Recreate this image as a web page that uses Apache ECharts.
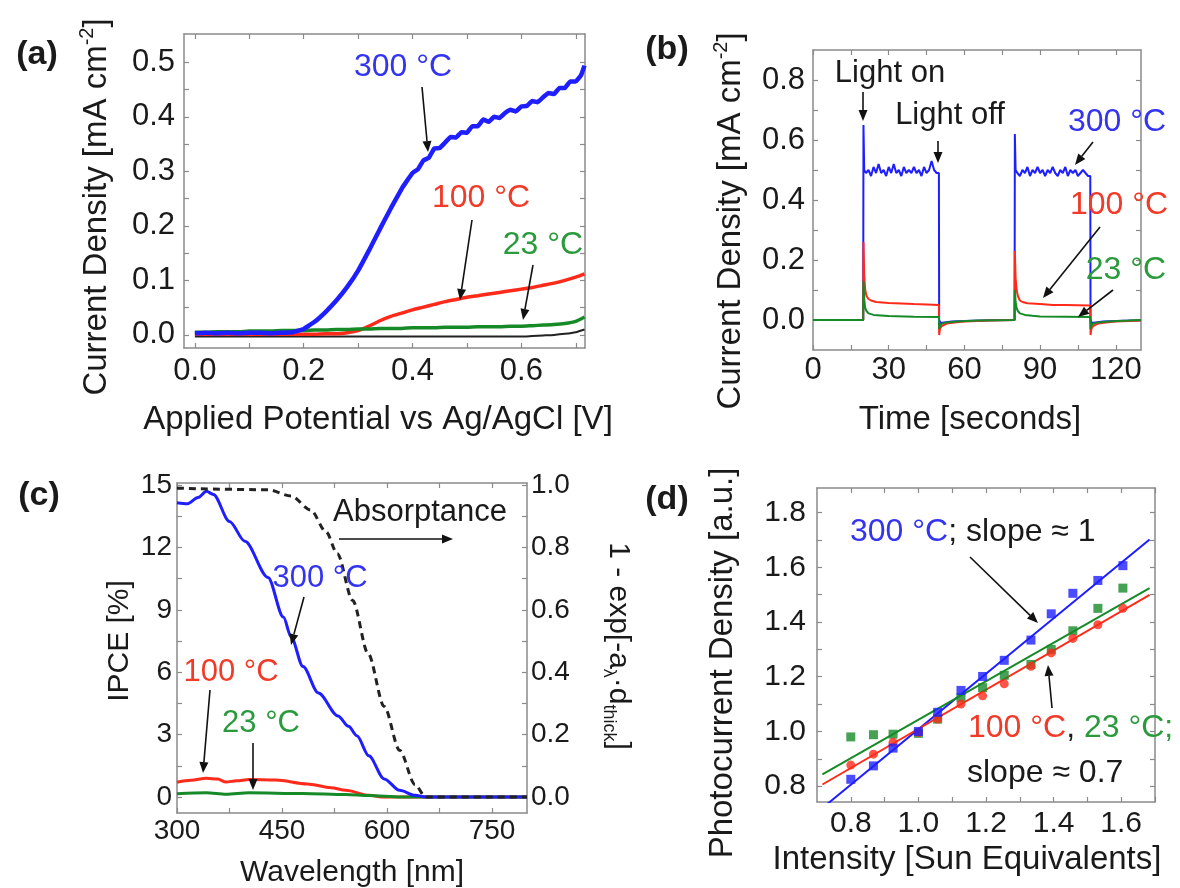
<!DOCTYPE html>
<html><head><meta charset="utf-8">
<script src="https://cdn.jsdelivr.net/npm/echarts@6/dist/echarts.min.js"></script>
<style>html,body{margin:0;padding:0;background:#fff}#c{width:1180px;height:888px}</style>
</head><body><div id="c"></div><script>
// ---------------- DATA ----------------
// Panel (a): current density vs applied potential
const aPotential = [0,0.02,0.04,0.06,0.08,0.10,0.12,0.14,0.16,0.18,0.20,0.22,0.24,0.26,0.28,0.30,0.32,0.34,0.36,0.38,0.40,0.42,0.44,0.46,0.48,0.50,0.52,0.54,0.56,0.58,0.60,0.62,0.64,0.66,0.68,0.70,0.716];
const a300 = [[0,0.003],[0.02,0.004],[0.04,0.003],[0.06,0.004],[0.08,0.003],[0.10,0.004],[0.12,0.004],[0.14,0.003],[0.16,0.004],[0.18,0.005],[0.20,0.011],[0.22,0.024],[0.24,0.042],[0.26,0.063],[0.28,0.088],[0.30,0.118],[0.32,0.155],[0.34,0.194],[0.36,0.232],[0.38,0.268],[0.39,0.283],[0.40,0.297],[0.41,0.304],[0.42,0.320],[0.43,0.325],[0.44,0.342],[0.45,0.343],[0.46,0.353],[0.47,0.363],[0.48,0.362],[0.49,0.372],[0.50,0.371],[0.51,0.383],[0.52,0.383],[0.53,0.395],[0.54,0.391],[0.55,0.400],[0.56,0.398],[0.57,0.407],[0.58,0.413],[0.59,0.410],[0.60,0.419],[0.61,0.420],[0.62,0.429],[0.63,0.427],[0.64,0.436],[0.65,0.444],[0.66,0.442],[0.67,0.453],[0.68,0.453],[0.69,0.465],[0.70,0.465],[0.71,0.477],[0.716,0.494]];
const a100 = [0.001,0.001,0.001,0.001,0.001,0.001,0.001,0.001,0.001,0.001,0.001,0.001,0.002,0.002,0.004,0.008,0.016,0.026,0.034,0.040,0.046,0.051,0.056,0.061,0.065,0.069,0.072,0.075,0.078,0.081,0.084,0.087,0.091,0.095,0.100,0.106,0.112];
const a23 = [0.005,0.005,0.006,0.006,0.006,0.007,0.007,0.007,0.008,0.008,0.008,0.009,0.009,0.010,0.010,0.011,0.011,0.012,0.012,0.012,0.013,0.013,0.013,0.014,0.014,0.014,0.015,0.015,0.015,0.016,0.016,0.017,0.018,0.019,0.021,0.025,0.033];
const aDark = [-0.003,-0.003,-0.003,-0.003,-0.003,-0.003,-0.003,-0.003,-0.003,-0.003,-0.003,-0.003,-0.003,-0.003,-0.003,-0.003,-0.003,-0.003,-0.003,-0.003,-0.003,-0.003,-0.003,-0.003,-0.003,-0.003,-0.003,-0.003,-0.003,-0.003,-0.003,-0.002,-0.001,0.000,0.002,0.005,0.010];
const aXTicks = [0,0.2,0.4,0.6];
const aXMinor = [0.1,0.3,0.5,0.7];
const aYTicks = [0,0.1,0.2,0.3,0.4,0.5];
const aYMinor = [0.05,0.15,0.25,0.35,0.45];

// Panel (b): chopped-light transients [time s, current]
const b300 = [[0,0],[19.9,0],[20,0.65],[20.3,0.50],[21,0.49],[22,0.50],[23,0.48],[24,0.51],[25,0.49],[26,0.52],[27,0.49],[28,0.50],[29,0.48],[30,0.51],[31,0.49],[32,0.52],[33,0.49],[34,0.50],[35,0.48],[36,0.51],[37,0.49],[38,0.50],[39,0.49],[40,0.51],[41,0.49],[42,0.50],[43,0.48],[44,0.51],[45,0.49],[46,0.50],[47,0.53],[48,0.50],[49,0.49],[49.9,0.49],[50,0.0],[50.5,-0.01],[55,-0.005],[60,-0.003],[70,-0.001],[79.9,0],[80,0.62],[80.3,0.50],[81,0.49],[82,0.48],[83,0.50],[84,0.49],[85,0.51],[86,0.48],[87,0.50],[88,0.49],[89,0.51],[90,0.49],[91,0.50],[92,0.48],[93,0.50],[94,0.49],[95,0.51],[96,0.49],[97,0.48],[98,0.50],[99,0.49],[100,0.51],[101,0.48],[102,0.50],[103,0.49],[104,0.50],[105,0.48],[106,0.49],[107,0.50],[108,0.49],[109,0.48],[109.9,0.48],[110,0.0],[110.5,-0.01],[115,-0.005],[120,-0.003],[130,-0.001]];
const b100 = [[0,0],[19.9,0],[20,0.26],[20.3,0.15],[20.7,0.10],[21.2,0.08],[22,0.07],[23,0.065],[25,0.06],[30,0.057],[35,0.055],[40,0.053],[45,0.052],[49.9,0.05],[50,-0.05],[50.3,-0.03],[51,-0.02],[53,-0.012],[56,-0.008],[60,-0.005],[70,-0.002],[79.9,0],[80,0.23],[80.3,0.14],[80.7,0.10],[81.2,0.08],[82,0.065],[83,0.06],[85,0.056],[90,0.053],[95,0.05],[100,0.05],[105,0.049],[109.9,0.048],[110,-0.05],[110.3,-0.03],[111,-0.02],[113,-0.012],[116,-0.008],[120,-0.005],[130,-0.002]];
const b23 = [[0,0],[19.9,0],[20,0.13],[20.3,0.07],[20.7,0.04],[21.2,0.03],[22,0.022],[24,0.017],[27,0.015],[30,0.013],[40,0.011],[49.9,0.01],[50,-0.03],[50.3,-0.02],[51,-0.012],[53,-0.008],[57,-0.005],[65,-0.002],[79.9,0],[80,0.10],[80.3,0.06],[80.7,0.04],[81.2,0.03],[82,0.022],[84,0.017],[87,0.014],[90,0.012],[100,0.011],[109.9,0.01],[110,-0.03],[110.3,-0.02],[111,-0.012],[113,-0.008],[117,-0.005],[125,-0.002],[130,0]];
const bXTicks = [0,30,60,90,120];
const bXMinor = [15,45,75,105];
const bYTicks = [0,0.2,0.4,0.6,0.8];
const bYMinor = [0.1,0.3,0.5,0.7];

// Panel (c): IPCE [%] and absorptance vs wavelength [nm]
const c300 = [[300,14.15],[315,14.1],[330,14.4],[342,14.7],[352,14.55],[375,13.25],[397,12.3],[430,10.56],[452,8.65],[463,7.7],[480,6.27],[502,5.0],[530,3.9],[545,3.4],[557,2.94],[574,1.98],[596,0.87],[618,0.32],[640,0.08],[655,0.0],[700,0.0],[750,0.0],[800,0.0]];
const c100 = [[300,0.71],[320,0.8],[342,0.9],[358,0.86],[370,0.72],[385,0.78],[403,0.84],[441,0.82],[486,0.63],[520,0.45],[541,0.32],[574,0.08],[596,0.0],[700,0.0],[800,0.0]];
const c23 = [[300,0.16],[342,0.2],[370,0.13],[403,0.2],[480,0.17],[541,0.12],[574,0.07],[620,0.0],[700,0.0],[800,0.0]];
const cAbs = [[300,0.99],[430,0.985],[463,0.965],[491,0.92],[513,0.85],[529,0.78],[551,0.63],[573,0.46],[596,0.29],[618,0.15],[640,0.04],[655,0.0],[700,0.0],[750,0.0],[800,0.0]];
const cXTicks = [300,450,600,750];
const cXMinor = [375,525,675];
const cYTicks = [0,3,6,9,12,15];
const cYMinor = [1.5,4.5,7.5,10.5,13.5];
const cRTicks = [0,0.2,0.4,0.6,0.8,1.0];
const cRMinor = [0.1,0.3,0.5,0.7,0.9];

// Panel (d): normalised photocurrent vs intensity
const dIntensity = [0.8,0.867,0.925,1.0,1.057,1.126,1.19,1.254,1.333,1.393,1.457,1.531,1.605];
const d300 = [0.825,0.874,0.939,1.0,1.07,1.15,1.201,1.26,1.334,1.43,1.505,1.552,1.606];
const d100 = [0.877,0.917,0.96,0.996,1.045,1.10,1.13,1.174,1.238,1.287,1.34,1.39,1.45];
const d23 = [0.98,0.988,0.99,0.993,1.045,1.123,1.16,1.205,1.245,1.30,1.368,1.45,1.524];
const dFit300 = [[0.715,0.719],[1.684,1.702]];
const dFit100 = [[0.716,0.806],[1.684,1.499]];
const dFit23 = [[0.716,0.843],[1.684,1.524]];
const dXTicks = [0.8,1.0,1.2,1.4,1.6];
const dXMinor = [0.9,1.1,1.3,1.5,1.7];
const dYTicks = [0.8,1.0,1.2,1.4,1.6,1.8];
const dYMinor = [0.9,1.1,1.3,1.5,1.7];

// ---------------- STYLE ----------------
const FONT = "'Liberation Sans', Arial, Helvetica, sans-serif";
const TXT = '#1a1a1a', BOX = '#8a8a8a';
const BLUE = '#1e1eff', RED = '#ff2a1a', GREEN = '#178a28', BLACK = '#222';
const BLUE_T = '#3434f0', RED_T = '#f23a28', GREEN_T = '#2a9a3c';

const zip = (xs, ys) => xs.map((x, i) => [x, ys[i]]);
const f1 = v => v.toFixed(1);
const f0 = v => String(Math.round(v));

function mkAxis(gi, pos, min, max, ticks, labels, fmt, fs, margin) {
  return {
    type: 'value', gridIndex: gi, position: pos, min: min, max: max,
    axisLine: { show: true, onZero: false, lineStyle: { color: BOX, width: 1.5 } },
    axisTick: { show: true, inside: true, length: 5, customValues: ticks, lineStyle: { color: BOX, width: 1.2 } },
    axisLabel: labels ? { show: true, customValues: labels, formatter: fmt, fontSize: fs, fontFamily: FONT, color: TXT, margin: margin } : { show: false },
    splitLine: { show: false }, minorTick: { show: false }, minorSplitLine: { show: false }
  };
}
const grids = [
  { left: 184, top: 34, width: 401, height: 314 },
  { left: 813, top: 50, width: 328, height: 300 },
  { left: 177, top: 483, width: 350, height: 330 },
  { left: 817, top: 488, width: 338, height: 314 }
].map(g => Object.assign(g, { containLabel: false, outerBoundsMode: 'none' }));

const xAxes = [
  mkAxis(0, 'bottom', -0.02, 0.717, aXTicks.concat(aXMinor), aXTicks, f1, 31, 8),
  mkAxis(0, 'top', -0.02, 0.717, aXTicks.concat(aXMinor), null),
  mkAxis(1, 'bottom', 0, 130, bXTicks.concat(bXMinor), bXTicks, f0, 31, 5),
  mkAxis(1, 'top', 0, 130, bXTicks.concat(bXMinor), null),
  mkAxis(2, 'bottom', 300, 800, cXTicks.concat(cXMinor), cXTicks, f0, 28, 4),
  mkAxis(2, 'top', 300, 800, cXTicks.concat(cXMinor), null),
  mkAxis(3, 'bottom', 0.7, 1.7, dXTicks.concat(dXMinor), dXTicks, f1, 30, 7),
  mkAxis(3, 'top', 0.7, 1.7, dXTicks.concat(dXMinor), null)
];
const yAxes = [
  mkAxis(0, 'left', -0.024, 0.552, aYTicks.concat(aYMinor), aYTicks, f1, 31, 9),
  mkAxis(0, 'right', -0.024, 0.552, aYTicks.concat(aYMinor), null),
  mkAxis(1, 'left', -0.1, 0.9, bYTicks.concat(bYMinor), bYTicks, f1, 31, 8),
  mkAxis(1, 'right', -0.1, 0.9, bYTicks.concat(bYMinor), null),
  mkAxis(2, 'left', -0.77, 15.1, cYTicks.concat(cYMinor), cYTicks, f0, 28, 5),
  mkAxis(2, 'right', -0.0513, 1.0067, cRTicks.concat(cRMinor), cRTicks, f1, 28, 4),
  mkAxis(3, 'left', 0.742, 1.89, dYTicks.concat(dYMinor), dYTicks, f1, 30, 11),
  mkAxis(3, 'right', 0.742, 1.89, dYTicks.concat(dYMinor), null)
];

function line(xi, yi, data, color, width, extra) {
  return Object.assign({
    type: 'line', xAxisIndex: xi, yAxisIndex: yi, data: data, showSymbol: false, symbol: 'none',
    lineStyle: { color: color, width: width }, itemStyle: { color: color }, animation: false, clip: true, silent: true
  }, extra || {});
}
function pts(xi, yi, data, color, shape) {
  return { type: 'scatter', xAxisIndex: xi, yAxisIndex: yi, data: data, symbol: shape, symbolSize: 9,
    itemStyle: { color: color }, animation: false, silent: true, z: 5 };
}

const series = [
  line(0, 0, zip(aPotential, aDark), BLACK, 2, { smooth: 0.2 }),
  line(0, 0, zip(aPotential, a100), RED, 3.5, { smooth: 0.2 }),
  line(0, 0, zip(aPotential, a23), GREEN, 3.5, { smooth: 0.2 }),
  line(0, 0, a300, BLUE, 4.5, { smooth: 0.1 }),
  line(2, 2, b300, BLUE, 2),
  line(2, 2, b100, RED, 2),
  line(2, 2, b23, GREEN, 2),
  line(4, 4, c100, RED, 3, { smooth: 0.3, smoothMonotone: 'x' }),
  line(4, 4, c23, GREEN, 3, { smooth: 0.3, smoothMonotone: 'x' }),
  line(4, 4, c300, BLUE, 3, { smooth: 0.3, smoothMonotone: 'x' }),
  line(4, 5, cAbs, BLACK, 3, { smooth: 0.3, smoothMonotone: 'x', lineStyle: { color: BLACK, width: 3, type: [7, 5] } }),
  line(6, 6, dFit300, BLUE, 2),
  line(6, 6, dFit100, RED, 2),
  line(6, 6, dFit23, GREEN, 2),
  pts(6, 6, zip(dIntensity, d23), GREEN, 'rect'),
  pts(6, 6, zip(dIntensity, d100), RED, 'circle'),
  pts(6, 6, zip(dIntensity, d300), BLUE, 'rect')
];

// ---------------- ANNOTATIONS ----------------
function txt(x, y, text, o) {
  o = o || {};
  const st = { text: text, fill: o.color || TXT, fontSize: o.fs || 32, fontFamily: FONT,
    fontWeight: o.bold ? 'bold' : 'normal', align: o.align || 'center', verticalAlign: 'middle' };
  if (o.rich) st.rich = o.rich;
  return { type: 'text', x: x, y: y, rotation: o.rot || 0, style: st, z: 100, silent: true };
}
function arrow(x1, y1, x2, y2) {
  const ang = Math.atan2(y2 - y1, x2 - x1), L = 11, W = 4.5;
  const bx = x2 - L * Math.cos(ang), by = y2 - L * Math.sin(ang);
  const px = -Math.sin(ang) * W, py = Math.cos(ang) * W;
  return [
    { type: 'line', shape: { x1: x1, y1: y1, x2: bx, y2: by }, style: { stroke: '#111', lineWidth: 1.6 }, z: 100, silent: true },
    { type: 'polygon', shape: { points: [[x2, y2], [bx + px, by + py], [bx - px, by - py]] }, style: { fill: '#111' }, z: 100, silent: true }
  ];
}
const supRich = fs => ({
  n: { fontSize: fs, fontFamily: FONT, fill: TXT, color: TXT, lineHeight: fs + 6 },
  s: { fontSize: Math.round(fs * 0.6), fontFamily: FONT, fill: TXT, color: TXT, verticalAlign: 'top', lineHeight: Math.round(fs * 0.6) }
});
const subRich = fs => ({
  n: { fontSize: fs, fontFamily: FONT, fill: TXT, color: TXT, lineHeight: fs + 6 },
  s: { fontSize: Math.round(fs * 0.6), fontFamily: FONT, fill: TXT, color: TXT, verticalAlign: 'bottom', lineHeight: Math.round(fs * 0.6) }
});
const dRich = {
  b: { fontSize: 32, fontFamily: FONT, fill: BLUE_T, color: BLUE_T },
  r: { fontSize: 32, fontFamily: FONT, fill: RED_T, color: RED_T },
  g: { fontSize: 32, fontFamily: FONT, fill: GREEN_T, color: GREEN_T },
  k: { fontSize: 32, fontFamily: FONT, fill: TXT, color: TXT }
};

let graphic = [
  // panel letters
  txt(37, 55, '(a)', { fs: 34, bold: true }),
  txt(667, 50, '(b)', { fs: 34, bold: true }),
  txt(39, 496, '(c)', { fs: 34, bold: true }),
  txt(667, 500, '(d)', { fs: 34, bold: true }),
  // axis titles
  txt(97, 207, '{n|Current Density [mA cm}{s|-2}{n|]}', { rot: Math.PI / 2, rich: supRich(33) }),
  txt(378, 420, 'Applied Potential vs Ag/AgCl [V]', { fs: 33 }),
  txt(731, 221, '{n|Current Density [mA cm}{s|-2}{n|]}', { rot: Math.PI / 2, rich: supRich(33) }),
  txt(970, 420, 'Time [seconds]', { fs: 33 }),
  txt(120, 641, 'IPCE [%]', { fs: 30, rot: Math.PI / 2 }),
  txt(618, 646, '{n|1 - exp[-a}{s|λ}{n|·d}{s|thick}{n|]}', { rot: -Math.PI / 2, rich: subRich(30) }),
  txt(352, 873, 'Wavelength [nm]', { fs: 30 }),
  txt(723, 663, 'Photocurrent Density [a.u.]', { fs: 33, rot: Math.PI / 2 }),
  txt(967, 860, 'Intensity [Sun Equivalents]', { fs: 33 }),
  // panel (a)
  txt(403, 67, '300 °C', { color: BLUE_T }),
  txt(481, 198, '100 °C', { color: RED_T }),
  txt(543, 245, '23 °C', { color: GREEN_T }),
  // panel (b)
  txt(890, 73, 'Light on', { fs: 31 }),
  txt(950, 115, 'Light off', { fs: 31 }),
  txt(1117, 122, '300 °C', { color: BLUE_T }),
  txt(1119, 205, '100 °C', { color: RED_T }),
  txt(1126, 270, '23 °C', { color: GREEN_T }),
  // panel (c)
  txt(420, 512, 'Absorptance', { fs: 31 }),
  txt(320, 578, '300 °C', { color: BLUE_T, fs: 31 }),
  txt(231, 672, '100 °C', { color: RED_T, fs: 31 }),
  txt(261, 723, '23 °C', { color: GREEN_T, fs: 31 }),
  // panel (d)
  txt(850, 532, '{b|300 °C}{k|; slope ≈ 1}', { align: 'left', rich: dRich }),
  txt(968, 728, '{r|100 °C}{k|, }{g|23 °C;}', { align: 'left', rich: dRich }),
  txt(967, 773, 'slope ≈ 0.7', { align: 'left' })
];
[
  [422, 87, 428, 152], [472, 220, 460, 300], [533, 265, 523, 320],
  [863, 92, 863, 121], [938, 141, 938, 163], [1093, 142, 1075, 165], [1100, 227, 1043, 298], [1113, 290, 1078, 317],
  [339, 539, 453, 539], [304, 597, 291, 645], [210, 690, 203, 773], [253, 743, 253, 790],
  [970, 557, 1038, 623], [1052, 708, 1048, 665]
].forEach(a => { graphic = graphic.concat(arrow(a[0], a[1], a[2], a[3])); });

const chart = echarts.init(document.getElementById('c'), null, { renderer: 'canvas' });
chart.setOption({
  backgroundColor: '#ffffff',
  animation: false,
  textStyle: { fontFamily: FONT },
  grid: grids,
  xAxis: xAxes,
  yAxis: yAxes,
  series: series,
  graphic: graphic
});
</script></body></html>
